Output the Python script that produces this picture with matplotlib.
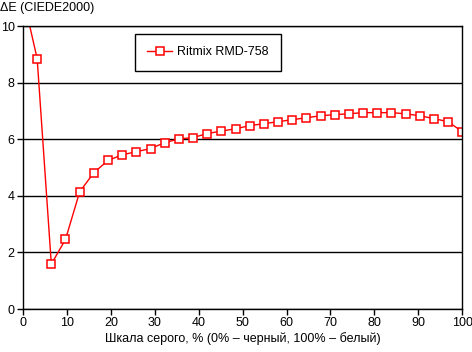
import matplotlib.pyplot as plt
import numpy as np

plt.rcParams['font.family'] = ['Liberation Sans', 'DejaVu Sans']

# grey scale steps, % (32 steps from black to white)
gray = np.linspace(0, 100, 32)
delta_e = [11.05, 8.85, 1.59, 2.46, 4.14, 4.82, 5.25, 5.45, 5.56, 5.67,
           5.88, 6.01, 6.06, 6.20, 6.29, 6.37, 6.48, 6.55, 6.62, 6.69,
           6.76, 6.83, 6.87, 6.90, 6.94, 6.94, 6.94, 6.90, 6.83, 6.73,
           6.62, 6.27]
x_ticks = list(range(0, 101, 10))
y_ticks = [0, 2, 4, 6, 8, 10]

fig = plt.figure(figsize=(4.72, 3.52), dpi=100)
ax = fig.add_axes([0.0487, 0.122, 0.9306, 0.804])

ax.plot(gray, delta_e, color='#ff0000', linewidth=1, marker='s', markersize=6,
        markerfacecolor='white', markeredgecolor='#ff0000', markeredgewidth=1.1,
        label='Ritmix RMD-758', clip_on=True)

ax.set_xlim(0, 100)
ax.set_ylim(0, 10)
ax.set_xticks(x_ticks)
ax.set_yticks(y_ticks)
ax.grid(axis='y', color='black', linewidth=1)
ax.set_axisbelow(True)
for s in ax.spines.values():
    s.set_color('black')
    s.set_linewidth(1)
ax.tick_params(direction='out', length=4, width=1, labelsize=9, pad=2, colors='black')

ax.set_xlabel('Шкала серого, % (0% – черный, 100% – белый)', fontsize=9, labelpad=2)
fig.text(0.0, 0.995, 'ΔE (CIEDE2000)', fontsize=9, ha='left', va='top')

leg = ax.legend(loc='upper left', bbox_to_anchor=(0.255, 0.972), fontsize=9,
                fancybox=False, edgecolor='black', framealpha=1,
                borderpad=1.0, handlelength=2.0, handletextpad=0.4,
                borderaxespad=0)
leg.get_frame().set_linewidth(1)

fig.savefig('out.png', dpi=100)
